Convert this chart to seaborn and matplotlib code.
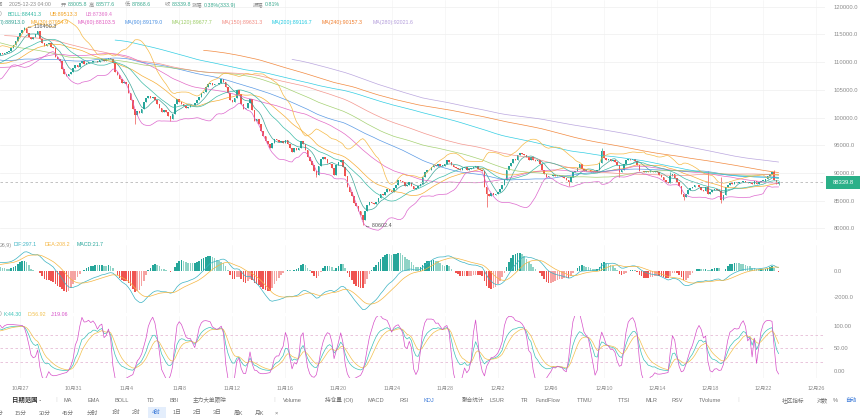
import numpy as np
import pandas as pd
import matplotlib
matplotlib.use("Agg")
import matplotlib.pyplot as plt
from matplotlib.patches import Rectangle
import seaborn as sns

W, H = 860, 418

# 4h closes in thousands, six candles a day (open time 00,04,08,12,16,20)
hist_closes = [  # 10-01 .. 10-24, only feeds the long averages
    114.2, 114.8, 116.0, 117.5, 118.3, 118.6,
    118.9, 119.5, 120.0, 120.3, 120.6, 120.5,
    120.3, 120.8, 121.5, 122.0, 122.4, 122.2,
    122.0, 122.3, 122.1, 122.5, 122.3, 122.4,
    122.6, 123.3, 124.8, 125.2, 124.2, 123.5,
    123.9, 124.6, 125.4, 126.0, 125.1, 124.7,
    124.3, 123.6, 122.5, 121.6, 121.0, 121.4,
    121.8, 122.4, 123.0, 123.4, 123.1, 123.3,
    122.8, 121.9, 121.2, 120.8, 121.4, 121.7,
    121.3, 121.8, 121.5, 120.6, 117.2, 113.2,
    112.6, 111.8, 111.5, 111.0, 110.8, 110.6,
    110.9, 111.6, 112.7, 113.8, 114.6, 115.2,
    115.0, 114.9, 115.6, 115.2, 114.8, 115.3,
    113.4, 112.5, 111.8, 112.9, 113.4, 113.1,
    112.8, 112.1, 111.7, 111.2, 110.6, 110.8,
    110.9, 111.2, 110.5, 109.6, 108.7, 108.2,
    107.9, 107.0, 105.3, 104.9, 106.1, 106.4,
    106.7, 106.9, 107.2, 107.0, 107.3, 107.2,
    107.6, 107.1, 108.0, 108.6, 108.3, 108.7,
    109.3, 110.4, 111.2, 111.0, 110.5, 110.6,
    110.2, 108.6, 107.5, 109.8, 112.4, 108.5,
    108.2, 107.9, 108.1, 107.0, 107.3, 107.6,
    108.0, 109.1, 109.6, 110.2, 110.0, 110.1,
    110.5, 111.0, 111.4, 110.9, 110.7, 111.0,
]
view_closes = [  # 10-25 .. 12-23 04:00
    111.2, 111.4, 111.3, 111.6, 111.5, 111.6,
    111.8, 112.0, 112.5, 113.1, 113.8, 114.5,
    115.2, 115.8, 116.1, 115.3, 114.6, 114.1,
    114.6, 115.1, 115.6, 114.2, 113.4, 112.9,
    113.2, 113.4, 112.8, 112.5, 110.9, 110.5,
    110.2, 108.8, 107.9, 107.5, 107.8, 108.3,
    108.9, 109.5, 109.2, 109.9, 110.2, 109.6,
    109.9, 110.1, 110.0, 110.3, 110.2, 110.1,
    110.4, 110.6, 110.2, 110.5, 110.8, 110.5,
    109.8, 108.2, 107.6, 106.9, 106.3, 106.5,
    106.1, 104.5, 103.2, 101.6, 100.4, 101.2,
    100.9, 101.5, 102.8, 103.6, 103.9, 103.5,
    103.8, 103.2, 102.5, 101.8, 101.0, 101.3,
    101.0, 100.2, 99.8, 100.6, 102.4, 103.4,
    102.9, 102.5, 102.1, 101.8, 102.0, 102.3,
    102.2, 102.6, 103.1, 103.8, 104.5, 104.7,
    105.6, 106.1, 106.3, 105.8, 106.0, 106.0,
    106.2, 106.9, 106.4, 105.5, 104.4, 103.2,
    102.9, 103.6, 104.9, 104.3, 102.4, 101.6,
    101.8, 102.6, 103.3, 101.4, 99.3, 99.7,
    98.9, 97.6, 96.6, 95.8, 95.2, 94.5,
    95.4, 96.2, 95.9, 95.6, 95.8, 95.5,
    95.9, 95.3, 94.6, 93.8, 94.6, 94.2,
    94.6, 95.7, 95.3, 94.1, 92.8, 92.2,
    91.4, 90.3, 89.6, 91.2, 92.6, 92.9,
    92.5, 91.8, 91.6, 90.9, 89.6, 91.5,
    91.9, 92.4, 91.1, 89.4, 87.4, 86.6,
    85.8, 84.6, 84.0, 83.2, 82.4, 81.6,
    83.2, 84.2, 84.8, 84.6, 84.4, 84.7,
    85.4, 86.2, 86.0, 86.6, 87.1, 86.8,
    86.5, 87.3, 87.9, 88.8, 88.5, 88.3,
    87.6, 87.9, 88.4, 87.7, 87.1, 87.3,
    87.6, 88.1, 89.3, 90.1, 90.6, 90.5,
    91.0, 91.5, 91.2, 91.6, 91.3, 91.3,
    91.6, 92.4, 92.0, 91.4, 91.0, 90.9,
    90.8, 90.6, 90.9, 91.1, 90.6, 90.8,
    90.9, 91.1, 91.3, 90.8, 90.6, 90.4,
    87.5, 86.2, 85.9, 86.4, 86.0, 86.3,
    86.5, 87.2, 87.9, 88.7, 90.6, 91.3,
    91.8, 92.6, 92.3, 93.2, 93.7, 93.5,
    93.2, 92.8, 92.3, 92.8, 92.4, 92.1,
    92.3, 91.7, 90.6, 89.9, 89.2, 89.4,
    89.5, 89.7, 89.4, 89.6, 89.4, 89.3,
    89.1, 88.8, 88.4, 89.3, 90.1, 90.4,
    90.9, 91.6, 90.8, 90.3, 90.5, 90.6,
    90.2, 90.4, 90.2, 90.6, 91.8, 93.9,
    92.7, 92.3, 92.5, 92.2, 92.4, 92.0,
    91.4, 90.2, 90.5, 91.6, 92.3, 92.5,
    92.4, 92.6, 92.2, 91.5, 90.4, 90.3,
    90.2, 90.4, 90.1, 90.3, 90.2, 90.3,
    90.1, 89.6, 89.2, 88.8, 88.4, 88.2,
    89.4, 89.8, 89.1, 88.4, 87.6, 86.3,
    85.6, 86.3, 86.9, 87.3, 87.5, 87.8,
    87.8, 87.4, 87.0, 86.8, 87.4, 86.3,
    86.6, 86.9, 87.2, 87.0, 86.7, 85.2,
    86.0, 87.4, 87.9, 88.2, 88.0, 88.3,
    88.2, 88.4, 88.3, 88.5, 88.3, 88.2,
    88.4, 88.1, 88.5, 88.0, 88.4, 88.6,
    88.6, 88.9, 89.4, 89.8, 90.1, 88.7,
    88.0058, 88.3398,
]
first_open = 113.9

# wicks sticking out of the bodies (candle open time, price in thousands)
wick_times = ["2025-10-10 16:00", "2025-10-27 08:00", "2025-11-04 16:00", "2025-11-07 08:00",
              "2025-11-18 08:00", "2025-11-21 20:00", "2025-12-01 04:00", "2025-12-07 08:00",
              "2025-12-09 20:00", "2025-12-11 04:00", "2025-12-15 00:00", "2025-12-16 00:00",
              "2025-12-17 20:00", "2025-12-18 20:00", "2025-12-18 20:00", "2025-12-22 20:00",
              "2025-12-23 04:00", "2025-12-23 04:00"]
wick_prices = [104.6, 116.4003, 98.9, 99.3,
               89.2, 80.6024, 83.8, 87.7,
               94.5, 89.3, 90.2, 85.1,
               90.3, 89.3, 84.5, 90.6,
               88.5776, 87.8686]

ma_periods = [7, 30, 60, 90, 120, 150, 200, 240, 280]
ma_colors = ["#2a9d8f", "#f5a623", "#e05cc0", "#4a90e2", "#9ccc65",
             "#f28b82", "#1ec8e0", "#f07d2c", "#b39ddb"]
boll_colors = {"mid": "#2bb5a0", "up": "#f5b335", "lo": "#d957c8"}

price_ticks = [80000, 85000, 90000, 95000, 100000, 105000, 110000, 115000, 120000]
macd_ticks = [-2000, 0]
kdj_ticks = [0, 50, 100]
date_ticks = list(range(0, 61, 4))
date_labels = ["10月27", "10月31", "11月4", "11月8", "11月12", "11月16", "11月20", "11月24",
               "11月28", "12月2", "12月6", "12月10", "12月14", "12月18", "12月22", "12月26"]

last_price = 88339.8
hi_label, lo_label = 116400.3, 80602.4

UP, DOWN = "#26a69a", "#ef5350"
GRAY = "#8c8c8c"

# ---- build candles + indicators
close = pd.Series(np.array(hist_closes + view_closes) * 1000.0)
times = pd.date_range("2025-10-01", periods=len(close), freq="4h")
x = ((times - pd.Timestamp("2025-10-27")) / pd.Timedelta(days=1)).to_numpy()
opn = close.shift(1).fillna(first_open * 1000.0)
high = np.maximum(opn, close)
low = np.minimum(opn, close)
for t, p in zip(wick_times, wick_prices):
    i = times.get_loc(pd.Timestamp(t))
    if p * 1000 > high[i]:
        high[i] = p * 1000
    else:
        low[i] = p * 1000

lines = {}
for n in ma_periods:
    lines[f"MA{n}"] = close.rolling(n).mean()
mid = close.rolling(20).mean()
sd = close.rolling(20).std(ddof=0)
lines["mid"], lines["up"], lines["lo"] = mid, mid + 2 * sd, mid - 2 * sd
palette = {f"MA{n}": c for n, c in zip(ma_periods, ma_colors)}
palette.update(boll_colors)

ema12 = close.ewm(span=12, adjust=False).mean()
ema26 = close.ewm(span=26, adjust=False).mean()
dif = ema12 - ema26
dea = dif.ewm(span=9, adjust=False).mean()
hist = 2 * (dif - dea)

low9 = low.rolling(9).min()
high9 = high.rolling(9).max()
rsv = (close - low9) / (high9 - low9) * 100
k = rsv.ewm(com=2, adjust=False).mean()
d = k.ewm(com=2, adjust=False).mean()
j = 3 * k - 2 * d

vis = x >= -2.5

# ---- figure
sns.set_theme(style="white")
plt.rcParams["font.family"] = ["Liberation Sans", "Noto Sans CJK SC", "DejaVu Sans"]
fig = plt.figure(figsize=(W / 100, H / 100), dpi=100)


def fx(px):
    return px / W


def fy(py):
    return 1 - py / H


ax_p = fig.add_axes([0, fy(240), fx(825), 240 / H])
ax_m = fig.add_axes([0, fy(313), fx(825), (313 - 245) / H])
ax_k = fig.add_axes([0, fy(378), fx(825), (378 - 316) / H])
xlim = (-1.507, 60.66)

# candles
o, c = opn.to_numpy()[vis], close.to_numpy()[vis]
hv, lv, xv = high.to_numpy()[vis], low.to_numpy()[vis], x[vis]
cols = np.where(c >= o, UP, DOWN)
ax_p.vlines(xv, lv, hv, colors=cols, lw=0.5)
body = np.maximum(np.abs(c - o), 60)
ax_p.bar(xv, body, bottom=np.minimum(o, c), width=0.12, color=cols, linewidth=0)

ldf = pd.DataFrame({"x": x, **{kk: vv.to_numpy() for kk, vv in lines.items()}})
ldf = ldf[ldf.x >= -2.5].melt(id_vars="x", var_name="line", value_name="v").dropna()
sns.lineplot(data=ldf, x="x", y="v", hue="line", palette=palette, ax=ax_p,
             legend=False, linewidth=0.5, estimator=None, alpha=0.9)

ax_p.axhline(last_price, color="#b8b8b8", lw=0.6, ls=(0, (3, 3)))
ihi = int(np.argmax(hv))
ilo = int(np.argmin(lv))
ax_p.text(xv[ihi] + 0.2, hi_label, f"← {hi_label:.1f}", fontsize=3.9, color="#555555", va="center")
ax_p.text(xv[ilo] + 0.2, lo_label, f"← {lo_label:.1f}", fontsize=3.9, color="#555555", va="center")
ax_p.set_ylim(77907, 121227)
ax_p.set_yticks(price_ticks)
ax_p.set_yticklabels([f"{v:.1f}" for v in price_ticks])
ax_p.grid(axis="y", color="#f1f1f1", lw=0.6)

# MACD
hv_ = hist.to_numpy()
prev = np.roll(hv_, 1)
mcol = np.where(hv_ >= 0, np.where(hv_ >= prev, "#26a69a", "#8fd3c6"),
                np.where(hv_ <= prev, "#ef5350", "#f5a3a2"))
ax_m.bar(x[vis], hv_[vis], width=0.12, color=mcol[vis], linewidth=0)
mdf = pd.DataFrame({"x": x, "DIF": dif, "DEA": dea})
mdf = mdf[mdf.x >= -2.5].melt(id_vars="x", var_name="line", value_name="v")
sns.lineplot(data=mdf, x="x", y="v", hue="line", palette={"DIF": "#3bb3c3", "DEA": "#f5b642"},
             ax=ax_m, legend=False, linewidth=0.5, estimator=None)
ax_m.set_ylim(-3231, 2000)
ax_m.set_yticks(macd_ticks)
ax_m.set_yticklabels([f"{v:.1f}" for v in macd_ticks])

# KDJ
for lv_ in (20, 50, 80):
    ax_k.axhline(lv_, color="#e5bcd6", lw=0.6, ls=(0, (3, 3)))
kdf = pd.DataFrame({"x": x, "K": k, "D": d, "J": j})
kdf = kdf[kdf.x >= -2.5].melt(id_vars="x", var_name="line", value_name="v").dropna()
sns.lineplot(data=kdf, x="x", y="v", hue="line",
             palette={"K": "#3cc3b8", "D": "#f2c14e", "J": "#d64fc8"},
             ax=ax_k, legend=False, linewidth=0.5, estimator=None)
ax_k.set_ylim(-15.6, 122.2)
ax_k.set_yticks(kdj_ticks)
ax_k.set_yticklabels([f"{v:.2f}" for v in kdj_ticks])

for ax in (ax_p, ax_m, ax_k):
    ax.set_xlim(*xlim)
    ax.set_xticks(date_ticks)
    ax.grid(axis="x", color="#f4f4f4", lw=0.5)
    ax.yaxis.tick_right()
    ax.tick_params(axis="y", length=0, pad=6, labelsize=4.2, labelcolor=GRAY)
    ax.tick_params(axis="x", length=0, labelbottom=False)
    ax.set_xlabel("")
    ax.set_ylabel("")
    for s in ax.spines.values():
        s.set_visible(False)
    ax.patch.set_alpha(0)
ax_k.set_xticklabels(date_labels)
ax_k.tick_params(axis="x", labelbottom=True, labelsize=3.9, labelcolor=GRAY, pad=6)

# price tag
fig.add_artist(Rectangle((fx(826), fy(189)), fx(34), 13 / H, transform=fig.transFigure,
                         color="#2bb088", lw=0))
fig.text(fx(843), fy(182.5), f"{last_price:.1f}", color="white", fontsize=4.2, ha="center", va="center")

renderer = fig.canvas.get_renderer()


def put_row(py, segs, size=3.8, gap=1.5, **kw):
    # place segments left to right, never letting one run into the next
    end = -1e9
    for px, s, col in segs:
        px = max(px, end + gap)
        t = fig.text(fx(px), fy(py), s, color=col, fontsize=size, ha="left", va="center", **kw)
        bb = t.get_window_extent(renderer)
        end = px + bb.width


TEAL = "#3aa98f"
put_row(5, [(-7, "时间", GRAY), (9, "2025-12-23 04:00", GRAY), (61, "开", GRAY), (65, "88005.8", TEAL),
            (89, "高", GRAY), (93, "88577.6", TEAL), (125, "低", GRAY), (129, "87868.6", TEAL),
            (165, "收", GRAY), (169, "88339.8", TEAL), (191, "涨幅", GRAY), (200, "0.38%(333.9)", TEAL),
            (253, "振幅", GRAY), (261, "0.81%", TEAL)], gap=1.2)
put_row(14, [(0, ")", GRAY), (8, "BOLL:88441.3", boll_colors["mid"]), (50, "UB:89513.3", "#f0a020"),
             (86, "LB:87369.4", "#e070c8")])
ma_text = ["7):88913.0", "MA(30):87954.9", "MA(60):88103.5", "MA(90):89179.0", "MA(120):89677.7",
           "MA(150):89631.3", "MA(200):89116.7", "MA(240):90157.3", "MA(280):92021.6"]
ma_x = [0, 31, 78, 125, 172, 222, 272, 322, 373]
put_row(22.5, list(zip(ma_x, ma_text, ma_colors)))

put_row(245, [(0, "26,9)", GRAY), (14, "DIF:297.1", "#3bb3c3"), (45, "DEA:208.2", "#f5b642"),
              (77, "MACD:21.7", "#26a69a")])
put_row(314, [(0, ")", GRAY), (3, "K:44.30", "#3cc3b8"), (28, "D:56.92", "#f2c14e"),
              (51, "J:19.06", "#d64fc8")])

# toolbar
TB = "#707070"
put_row(400, [(12, "日期范围 ·", "#333333")], size=4.6, fontweight="bold")
bar1 = [(63, "MA"), (87, "EMA"), (115, "BOLL"), (147, "TD"), (170, "BBI"), (193, "主力大单跟踪"),
        (283, "Volume"), (325, "持仓量 (OI)"), (367, "MACD"), (400, "RSI"), (423, "KDJ"),
        (462, "聚合统计"), (490, "LSUR"), (521, "TR"), (536, "FundFlow"), (577, "TTMU"),
        (618, "TTSI"), (646, "MLR"), (672, "RSV"), (699, "TVolume"), (782, "社区指标"),
        (817, "对数"), (833, "%"), (845, "自动")]
put_row(400, [(px, s, "#3d7bd9" if s in ("KDJ", "自动") else TB) for px, s in bar1], size=4.1)
for px in (55, 273, 737):
    put_row(400, [(px, "|", "#dddddd")], size=4.6)
fig.add_artist(Rectangle((fx(148), fy(419)), fx(18), 12 / H, transform=fig.transFigure,
                         color="#e4eefc", lw=0))
bar2 = [(-5, "5分"), (15, "15分"), (39, "30分"), (62, "45分"), (87, "分时"), (112, "1时"), (132, "2时"),
        (152, "4时"), (173, "1日"), (193, "2日"), (213, "3日"), (234, "周K"), (255, "月K"), (275, "×")]
put_row(413, [(px, s, "#3d7bd9" if s == "4时" else TB) for px, s in bar2], size=4.1)

fig.savefig("out.png", dpi=100)
